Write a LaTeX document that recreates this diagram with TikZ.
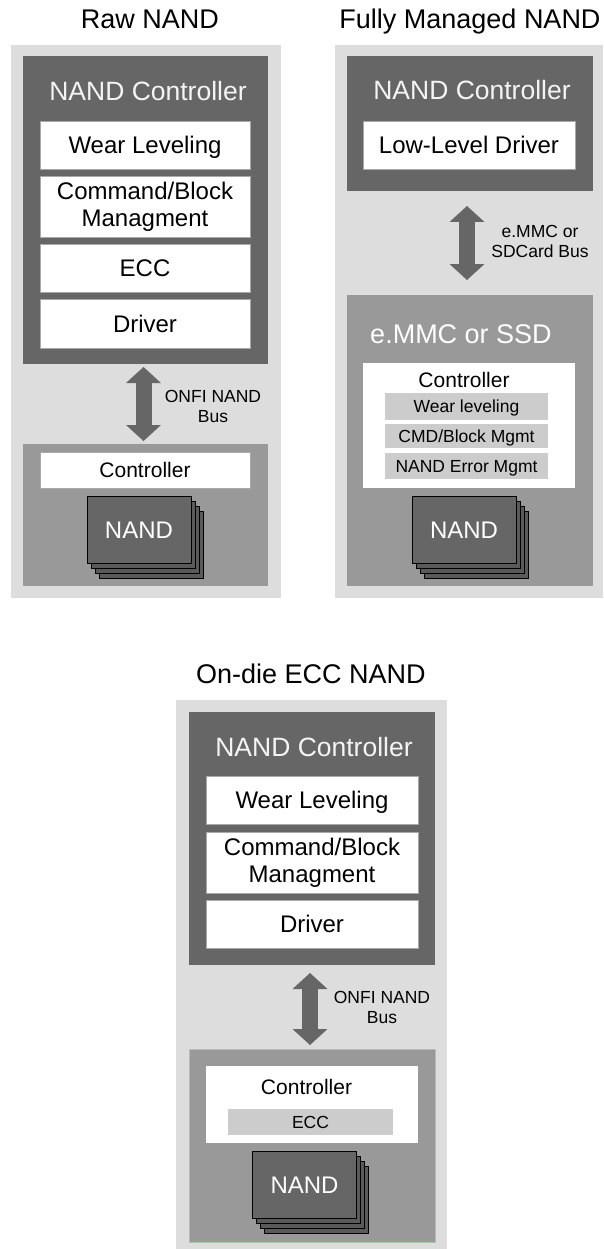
\documentclass[tikz,border=0pt]{standalone}
\usepackage{fontspec}
\setmainfont{Liberation Sans}
\usetikzlibrary{arrows.meta}
\definecolor{lightbg}{HTML}{DDDDDD}
\definecolor{darkbox}{HTML}{666666}
\definecolor{midbox}{HTML}{999999}
\definecolor{subbox}{HTML}{CCCCCC}
\definecolor{edgegray}{HTML}{A8A8A8}
\definecolor{hdrwhite}{HTML}{F4F4F4}
\definecolor{greenedge}{HTML}{A9C6A9}
\tikzset{
  bg/.style={fill=lightbg, inner sep=0pt, outer sep=0pt},
  ctrlbox/.style={fill=darkbox, inner sep=0pt, outer sep=0pt},
  devbox/.style={fill=midbox, inner sep=0pt, outer sep=0pt},
  ttl/.style={font=\fontsize{27}{31}\selectfont, text height=19.3pt, text depth=0pt, inner sep=0pt},
  hdr/.style={font=\fontsize{26.5}{30}\selectfont, text=hdrwhite, text height=19pt, text depth=0pt, inner sep=0pt},
  wbox/.style={fill=white, draw=edgegray, line width=0.6pt, inner sep=0pt, font=\fontsize{24}{27}\selectfont, minimum width=210pt},
  one/.style={text height=17.2pt, text depth=0pt},
  two/.style={align=center},
  ctl/.style={font=\fontsize{21}{24}\selectfont, text height=15pt, text depth=0pt, inner sep=0pt},
  gbox/.style={fill=subbox, inner sep=0pt, font=\fontsize{17.5}{20}\selectfont, text height=12.5pt, text depth=0pt},
  buslbl/.style={font=\fontsize{17.5}{20}\selectfont, align=center, inner sep=0pt},
  bus/.style={draw=darkbox, line width=16pt,
    {Triangle[width=35pt,length=16pt,line width=0pt]}-{Triangle[width=35pt,length=16pt,line width=0pt]}},
  nandback/.style={fill=darkbox!88!black, draw=black, line width=1pt, minimum width=104pt, minimum height=67pt, inner sep=0pt},
  nandfront/.style={fill=darkbox, draw=black, line width=1pt, minimum width=104pt, minimum height=67pt, inner sep=0pt,
    text=white, font=\fontsize{24}{27}\selectfont, text height=17.2pt, text depth=0pt},
}
\newcommand\nandstack[3]{%
  \foreach \k in {3,2,1}{\node[nandback] (#1-\k) at ({#2+4*\k},{#3+5*\k}) {};}
  \node[nandfront] (#1) at (#2,#3) {NAND};}
\begin{document}
\begin{tikzpicture}[x=1pt,y=-1pt]
\useasboundingbox[fill=white] (0,0) rectangle (603,1249);

% ---------- Raw NAND ----------
\node[ttl] (t1) at (150,19) {Raw NAND};
\node[bg, minimum width=270pt, minimum height=553pt] (lg1) at (146,321.5) {};
\node[ctrlbox, minimum width=245pt, minimum height=308pt] (dk1) at (145.5,210) {};
\node[hdr] (h1) at (148,91) {NAND Controller};
\node[wbox, one, minimum height=48pt] (wl1) at (145,145) {Wear Leveling};
\node[wbox, two, minimum height=61pt] (cb1) at (145,206.5) {Command/Block\\Managment};
\node[wbox, one, minimum height=48pt] (ecc1) at (145,268) {ECC};
\node[wbox, one, minimum height=49pt] (drv1) at (145,323.5) {Driver};
\node[devbox, minimum width=245pt, minimum height=142pt] (md1) at (145.5,515) {};
\node[wbox, ctl, minimum height=36pt] (ct1) at (145,470) {Controller};
\nandstack{n1}{139}{529.5}
\draw[bus, shorten <=3pt, shorten >=3pt] ([xshift=-2pt]dk1.south) -- ([xshift=-2pt]md1.north);
\node[buslbl] (l1) at (213,406) {ONFI NAND\\Bus};

% ---------- Fully Managed NAND ----------
\node[ttl] (t2) at (470,19) {Fully Managed NAND};
\node[bg, minimum width=268pt, minimum height=553pt] (lg2) at (469,321.5) {};
\node[ctrlbox, minimum width=246pt, minimum height=135pt] (dk2) at (470,123.5) {};
\node[hdr] (h2) at (472,90) {NAND Controller};
\node[wbox, one, minimum width=212pt, minimum height=48pt] (lld) at (469,145) {Low-Level Driver};
\node[devbox, minimum width=246pt, minimum height=291pt] (md2) at (470,440.5) {};
\node[hdr, text=white, font=\fontsize{27}{31}\selectfont] (h2b) at (461,334) {e.MMC or SSD};
\node[fill=white, inner sep=0pt, minimum width=212pt, minimum height=125pt] (ct2) at (469,425.5) {};
\node[ctl] (ct2t) at (464,380) {Controller};
\node[gbox, minimum width=163pt, minimum height=27pt] (g1) at (466.5,406.5) {Wear leveling};
\node[gbox, minimum width=163pt, minimum height=24pt] (g2) at (466.5,436) {CMD/Block Mgmt};
\node[gbox, minimum width=163pt, minimum height=26pt] (g3) at (466.5,466) {NAND Error Mgmt};
\nandstack{n2}{464}{529.5}
\draw[bus, shorten <=15pt, shorten >=15pt] ([xshift=-3pt]dk2.south) -- ([xshift=-3pt]md2.north);
\node[buslbl] (l2) at (540,241.5) {e.MMC or\\SDCard Bus};

% ---------- On-die ECC NAND ----------
\node[ttl] (t3) at (311,674) {On-die ECC NAND};
\node[bg, minimum width=271pt, minimum height=549pt] (lg3) at (311.5,974.5) {};
\node[ctrlbox, minimum width=246pt, minimum height=253pt] (dk3) at (312,838.5) {};
\node[hdr] (h3) at (314,747) {NAND Controller};
\node[wbox, one, minimum width=212pt, minimum height=48pt] (wl3) at (312,800) {Wear Leveling};
\node[wbox, two, minimum width=212pt, minimum height=61pt] (cb3) at (312,862.5) {Command/Block\\Managment};
\node[wbox, one, minimum width=212pt, minimum height=48pt] (drv3) at (312,924) {Driver};
\node[devbox, draw=greenedge, line width=0.8pt, minimum width=246pt, minimum height=193pt] (md3) at (312,1145.5) {};
\node[fill=white, inner sep=0pt, minimum width=212pt, minimum height=77pt] (ct3) at (312,1104.5) {};
\node[ctl] (ct3t) at (306.5,1087) {Controller};
\node[gbox, minimum width=165pt, minimum height=26pt] (g4) at (310.5,1122) {ECC};
\nandstack{n3}{304.5}{1185}
\draw[bus, shorten <=8pt, shorten >=4pt] ([xshift=-2pt]dk3.south) -- ([xshift=-2pt]md3.north);
\node[buslbl] (l3) at (382,1007) {ONFI NAND\\Bus};
\end{tikzpicture}
\end{document}
